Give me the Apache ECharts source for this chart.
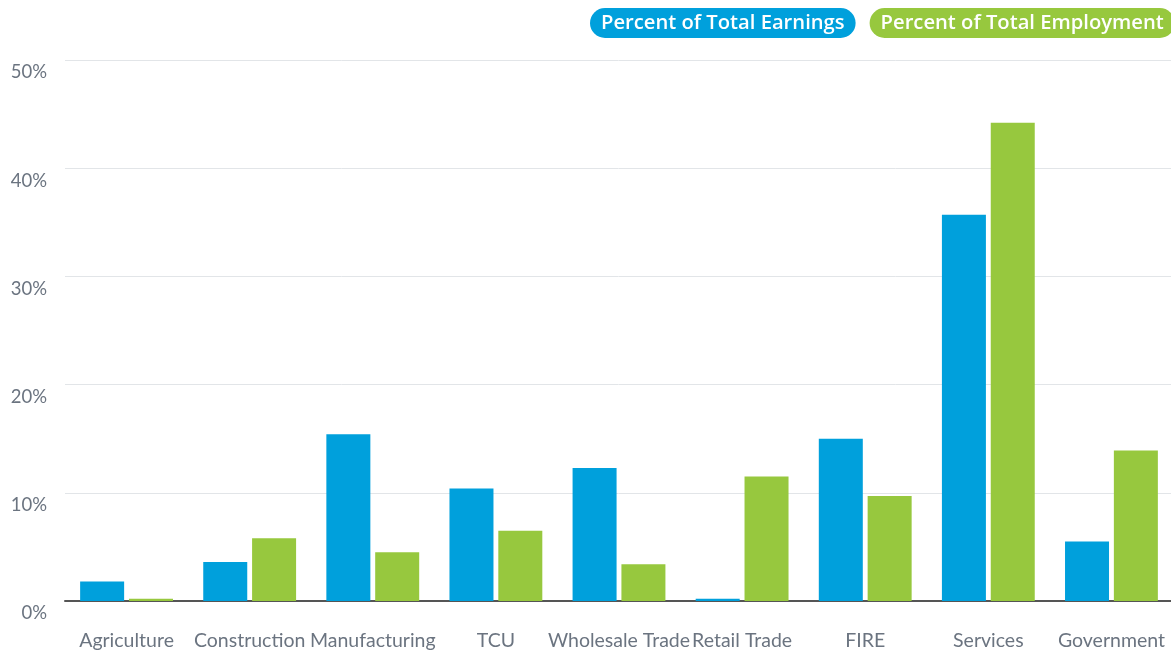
<!DOCTYPE html>
<html><head><meta charset="utf-8">
<script src="https://cdn.jsdelivr.net/npm/echarts@6/dist/echarts.min.js"></script>
<style>html,body{margin:0;padding:0;background:#fff}#c{width:1171px;height:654px}</style>
</head><body><div id="c"></div>
<script>
const categories = ['Agriculture','Construction','Manufacturing','TCU','Wholesale Trade','Retail Trade','FIRE','Services','Government'];
const earnings = [1.8, 3.6, 15.4, 10.4, 12.3, 0.2, 15.0, 35.7, 5.5];
const employment = [0.2, 5.8, 4.5, 6.5, 3.4, 11.5, 9.7, 44.2, 13.9];
const seriesNames = ['Percent of Total Earnings','Percent of Total Employment'];
const colors = ['#00a0dc','#97c83e'];

const chart = echarts.init(document.getElementById('c'));
chart.setOption({
  animation: false,
  textStyle: {fontFamily: 'Lato'},
  legend: {
    top: 3, left: 580, width: 700, itemWidth: 0, itemHeight: 0, itemGap: 9, icon: 'none',
    selectedMode: false,
    data: seriesNames.map((n, i) => ({
      name: n,
      textStyle: {
        color: '#fff', fontSize: 20.2, fontWeight: 600, fontFamily: 'Open Sans',
        backgroundColor: colors[i], borderRadius: 15, padding: [5, 11, 5, 11]
      }
    }))
  },
  grid: {left: 65, width: 1108, top: 60, bottom: 53, outerBoundsMode: 'none', containLabel: false},
  xAxis: {
    type: 'category', data: categories,
    axisLine: {lineStyle: {color: '#555', width: 2}},
    axisTick: {inside: true, length: 6, lineStyle: {color: '#666'}},
    axisLabel: {color: '#6b7480', fontSize: 19.5, margin: 30, interval: 0}
  },
  yAxis: {
    type: 'value', min: 0, max: 50, interval: 10,
    axisLine: {show: false}, axisTick: {show: false},
    splitLine: {lineStyle: {color: '#e2e5e8', width: 1}},
    axisLabel: {color: '#6b7480', fontSize: 18.5, margin: 18, formatter: '{value}%', verticalAlign: 'top', padding: [3,0,0,0]}
  },
  series: [
    {name: seriesNames[0], type: 'bar', data: earnings, barWidth: 44, barGap: '11%', itemStyle: {color: colors[0]}},
    {name: seriesNames[1], type: 'bar', data: employment, barWidth: 44, itemStyle: {color: colors[1]}}
  ]
});
</script></body></html>
